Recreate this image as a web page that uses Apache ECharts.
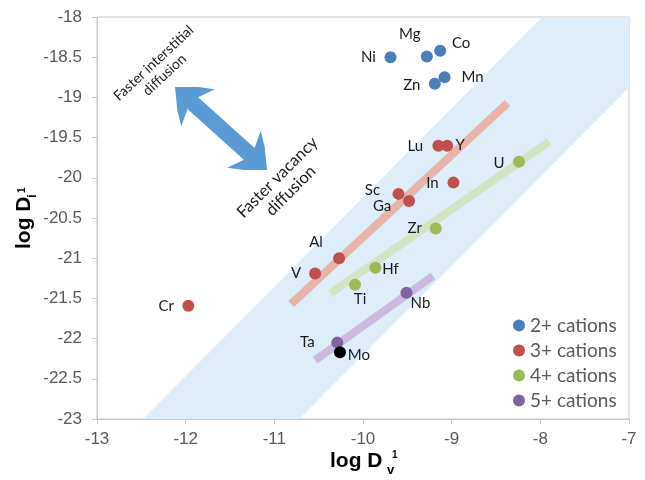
<!DOCTYPE html>
<html>
<head>
<meta charset="utf-8">
<script src="https://cdn.jsdelivr.net/npm/echarts@6/dist/echarts.min.js"></script>
<style>
html, body { margin: 0; padding: 0; background: #fff; }
#main { width: 645px; height: 480px; }
</style>
</head>
<body>
<div id="main"></div>
<script>
// 2+ cations
var names2 = ['Ni', 'Mg', 'Co', 'Zn', 'Mn'];
var x2 = [-9.69, -9.28, -9.13, -9.19, -9.08];
var y2 = [-18.50, -18.49, -18.42, -18.83, -18.75];
// 3+ cations
var names3 = ['Lu', 'Y', 'In', 'Sc', 'Ga', 'Al', 'V', 'Cr'];
var x3 = [-9.15, -9.05, -8.98, -9.60, -9.48, -10.27, -10.54, -11.97];
var y3 = [-19.60, -19.60, -20.06, -20.20, -20.29, -21.00, -21.19, -21.59];
// 4+ cations
var names4 = ['U', 'Zr', 'Hf', 'Ti'];
var x4 = [-8.24, -9.18, -9.86, -10.09];
var y4 = [-19.80, -20.63, -21.12, -21.33];
// 5+ cations
var names5 = ['Nb', 'Ta'];
var x5 = [-9.51, -10.29];
var y5 = [-21.43, -22.05];
// Mo (black point, not in legend)
var namesMo = ['Mo'];
var xMo = [-10.26];
var yMo = [-22.17];
// trend lines (end points)
var fit3X = [-10.81, -8.37], fit3Y = [-21.57, -19.07];
var fit4X = [-10.37, -7.90], fit4Y = [-21.44, -19.55];
var fit5X = [-10.54, -9.21], fit5Y = [-22.27, -21.22];
// shaded band corners
var bandX = [-12.48, -10.72, -7, -7, -7.98];
var bandY = [-23, -23, -18.88, -18, -18];
// axes
var xMin = -13, xMax = -7, xStep = 1;
var yMin = -23, yMax = -18, yStep = 0.5;
var legendNames = ['2+ cations', '3+ cations', '4+ cations', '5+ cations'];

/* label offsets (pixels from point centre) */
var labelOffset = {
    Ni: [-22, 0], Mg: [-17, -22], Co: [21, -8], Zn: [-23, 1], Mn: [28, 0],
    Lu: [-23, 1], Y: [13, 0], In: [-21, 1], Sc: [-26, -4], Ga: [-27, 5],
    Al: [-23, -16], V: [-19, 0], Cr: [-22, 1],
    U: [-20, 1], Zr: [-21, 0], Hf: [15, 1], Ti: [5, 14],
    Nb: [14, 10], Ta: [-30, 0], Mo: [19, 3]
};

var labelFont = 'Lato, "Open Sans", sans-serif';

function points(names, xs, ys) {
    return names.map(function (n, i) {
        return {
            name: n,
            value: [xs[i], ys[i]],
            label: { offset: labelOffset[n] || [0, 0] }
        };
    });
}
function pairs(xs, ys) {
    return xs.map(function (x, i) { return [x, ys[i]]; });
}

function scatterSeries(name, data, color) {
    return {
        name: name,
        type: 'scatter',
        symbol: 'circle',
        symbolSize: 12,
        z: 5,
        itemStyle: { color: color, opacity: 1 },
        label: {
            show: true,
            position: 'inside',
            formatter: '{b}',
            color: '#1a1a1a',
            textBorderWidth: 0,
            fontFamily: labelFont,
            fontSize: 15
        },
        emphasis: { disabled: true },
        data: data
    };
}
function fitSeries(data, color) {
    return {
        type: 'line',
        data: data,
        symbol: 'none',
        silent: true,
        z: 3,
        lineStyle: { color: color, width: 8, cap: 'butt' }
    };
}

/* double-headed arrow as a polygon (annotation, pixel space) */
function doubleArrow(ax, ay, bx, by) {
    var dx = bx - ax, dy = by - ay, L = Math.sqrt(dx * dx + dy * dy);
    var ux = dx / L, uy = dy / L, nx = -uy, ny = ux;
    var sh = 8, hh = 25, hl = 31, jl = 24;
    function p(bx0, by0, along, side) {
        return [bx0 + ux * along + nx * side, by0 + uy * along + ny * side];
    }
    return [
        [ax, ay],
        p(ax, ay, hl * 0.55, hh * 0.62), p(ax, ay, hl, hh), p(ax, ay, jl, sh),
        p(bx, by, -jl, sh), p(bx, by, -hl, hh), p(bx, by, -hl * 0.55, hh * 0.62),
        [bx, by],
        p(bx, by, -hl * 0.55, -hh * 0.62), p(bx, by, -hl, -hh), p(bx, by, -jl, -sh),
        p(ax, ay, jl, -sh), p(ax, ay, hl, -hh), p(ax, ay, hl * 0.55, -hh * 0.62)
    ];
}

var myChart = echarts.init(document.getElementById('main'));
var axisFont = '"Liberation Sans", Arial, sans-serif';
var nameFont = 'bold 21px "Liberation Sans", Arial, sans-serif';
var subFont = 'bold 13px "Liberation Sans", Arial, sans-serif';
var supFont = 'bold 10px "Liberation Sans", Arial, sans-serif';

myChart.setOption({
    animation: false,
    backgroundColor: '#fff',
    grid: { left: 97, right: 16, top: 17, bottom: 61, show: true, borderColor: '#c8c8c8', borderWidth: 1 },
    legend: {
        data: legendNames,
        orient: 'vertical',
        left: 513,
        top: 316,
        padding: 0,
        icon: 'circle',
        itemWidth: 12,
        itemHeight: 12,
        itemGap: 6,
        textStyle: { fontFamily: labelFont, fontSize: 19, color: '#595959', lineHeight: 18 }
    },
    xAxis: {
        type: 'value',
        min: xMin, max: xMax, interval: xStep,
        axisLine: { show: true, lineStyle: { color: '#c8c8c8' } },
        axisTick: { show: true, length: 5, lineStyle: { color: '#c8c8c8' } },
        splitLine: { show: false },
        axisLabel: { margin: 12, color: '#595959', fontFamily: axisFont, fontSize: 17 }
    },
    yAxis: {
        type: 'value',
        min: yMin, max: yMax, interval: yStep,
        axisLine: { show: true, lineStyle: { color: '#c8c8c8' } },
        axisTick: { show: true, length: 5, lineStyle: { color: '#c8c8c8' } },
        splitLine: { show: false },
        axisLabel: { margin: 15, color: '#595959', fontFamily: axisFont, fontSize: 17 }
    },
    graphic: [
        // x axis name: log Dv^1
        { type: 'text', left: 330, top: 451, style: { text: 'log D', font: nameFont, fill: '#000' } },
        { type: 'text', left: 387, top: 464, style: { text: 'v', font: subFont, fill: '#000' } },
        { type: 'text', left: 392, top: 450, style: { text: '1', font: supFont, fill: '#000' } },
        // y axis name: log Di^1 (rotated)
        {
            type: 'group', x: 18, y: 249, rotation: Math.PI / 2,
            children: [
                { type: 'text', x: 0, y: -4, style: { text: 'log D', font: nameFont, fill: '#000', textVerticalAlign: 'top' } },
                { type: 'text', x: 51, y: 8, style: { text: 'i', font: subFont, fill: '#000', textVerticalAlign: 'top' } },
                { type: 'text', x: 56, y: -1, style: { text: '1', font: supFont, fill: '#000', textVerticalAlign: 'top' } }
            ]
        },
        // arrow
        {
            type: 'polygon', z: 10,
            shape: { points: doubleArrow(175, 87, 267, 170) },
            style: { fill: '#5b9bd5' }
        },
        {
            type: 'text', x: 159, y: 69, rotation: 43 * Math.PI / 180, z: 10,
            style: {
                text: 'Faster interstitial\ndiffusion', font: '14px Lato, sans-serif', fill: '#1a1a1a',
                textAlign: 'center', textVerticalAlign: 'middle', lineHeight: 16
            }
        },
        {
            type: 'text', x: 284, y: 184, rotation: Math.PI / 4, z: 10,
            style: {
                text: 'Faster vacancy\ndiffusion', font: '16.5px Lato, sans-serif', fill: '#1a1a1a',
                textAlign: 'center', textVerticalAlign: 'middle', lineHeight: 19
            }
        }
    ],
    series: [
        {
            type: 'custom',
            silent: true,
            z: 1,
            data: [0],
            renderItem: function (params, api) {
                var pts = bandX.map(function (x, i) { return api.coord([x, bandY[i]]); });
                return { type: 'polygon', shape: { points: pts }, style: { fill: '#ddeefa' } };
            }
        },
        fitSeries(pairs(fit3X, fit3Y), '#e8b4aa'),
        fitSeries(pairs(fit4X, fit4Y), '#cfe6c4'),
        fitSeries(pairs(fit5X, fit5Y), '#cbb9e0'),
        scatterSeries('2+ cations', points(names2, x2, y2), '#4a7ebb'),
        scatterSeries('3+ cations', points(names3, x3, y3), '#c0504d'),
        scatterSeries('4+ cations', points(names4, x4, y4), '#9bbb59'),
        scatterSeries('5+ cations', points(names5, x5, y5), '#8064a2'),
        scatterSeries('Mo', points(namesMo, xMo, yMo), '#000000')
    ]
});
</script>
</body>
</html>
